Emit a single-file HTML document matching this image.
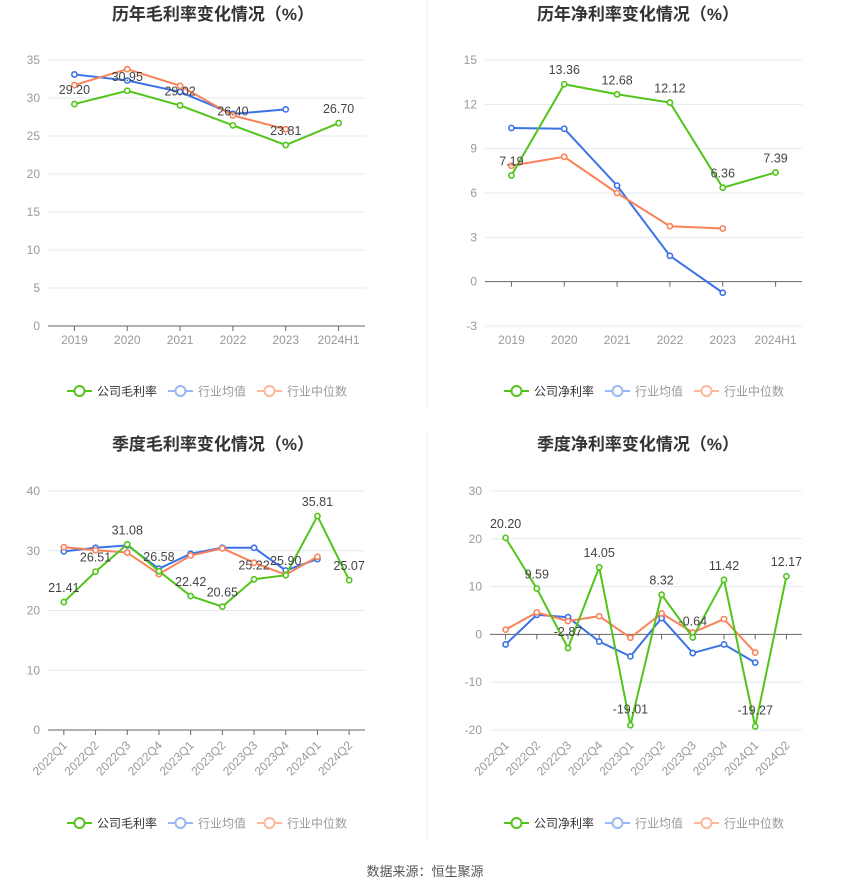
<!DOCTYPE html>
<html><head><meta charset="utf-8">
<style>
body{margin:0;background:#fff;width:850px;height:891px;overflow:hidden;font-family:"Liberation Sans","Noto Sans CJK SC",sans-serif;}
svg text{font-family:"Liberation Sans","Noto Sans CJK SC",sans-serif;}
</style></head>
<body>
<svg id="root" width="850" height="891" xmlns="http://www.w3.org/2000/svg">
<line x1="427" y1="0" x2="427" y2="408" stroke="#eee"/>
<line x1="427" y1="432" x2="427" y2="840" stroke="#eee"/>
<text x="425" y="876" text-anchor="middle" font-size="13" fill="#555">数据来源：恒生聚源</text>
</svg>
<script>
// Chart 1: annual gross margin
const c1Cats=["2019","2020","2021","2022","2023","2024H1"];
const c1Company=[29.20,30.95,29.02,26.40,23.81,26.70];
const c1Avg=[33.1,32.3,30.8,27.9,28.5];
const c1Median=[31.7,33.8,31.6,27.7,25.9];
const c1Ticks=[0,5,10,15,20,25,30,35];
// Chart 2: annual net margin
const c2Cats=["2019","2020","2021","2022","2023","2024H1"];
const c2Company=[7.19,13.36,12.68,12.12,6.36,7.39];
const c2Avg=[10.4,10.35,6.5,1.75,-0.75];
const c2Median=[7.85,8.45,6.0,3.75,3.6];
const c2Ticks=[-3,0,3,6,9,12,15];
// Chart 3: quarterly gross margin
const c3Cats=["2022Q1","2022Q2","2022Q3","2022Q4","2023Q1","2023Q2","2023Q3","2023Q4","2024Q1","2024Q2"];
const c3Company=[21.41,26.51,31.08,26.58,22.42,20.65,25.22,25.90,35.81,25.07];
const c3Avg=[29.9,30.5,30.9,27.0,29.5,30.5,30.5,26.7,28.6];
const c3Median=[30.6,30.1,29.7,26.1,29.2,30.4,28.0,26.0,29.0];
const c3Ticks=[0,10,20,30,40];
// Chart 4: quarterly net margin
const c4Cats=["2022Q1","2022Q2","2022Q3","2022Q4","2023Q1","2023Q2","2023Q3","2023Q4","2024Q1","2024Q2"];
const c4Company=[20.20,9.59,-2.87,14.05,-19.01,8.32,-0.64,11.42,-19.27,12.17];
const c4Avg=[-2.1,4.1,3.6,-1.5,-4.6,3.4,-3.9,-2.1,-5.9];
const c4Median=[1.0,4.6,2.8,3.8,-0.7,4.4,0.4,3.2,-3.8];
const c4Ticks=[-20,-10,0,10,20,30];

const NS="http://www.w3.org/2000/svg";
const root=document.getElementById('root');
function mk(tag,attrs,parent){const e=document.createElementNS(NS,tag);for(const k in attrs)e.setAttribute(k,attrs[k]);(parent||root).appendChild(e);return e;}
const GREEN="#52c41a",BLUE="#3b72e8",ORANGE="#fa8259";

function chart(o){
  const g=mk('g',{});
  
  
  const t=mk('text',{x:o.cx,y:o.titleY,'text-anchor':'middle','font-size':17,'font-weight':'bold',fill:'#333'},g);
  t.textContent=o.title;
  
  
  const n=o.cats.length, step=(o.x1-o.x0)/n;
  const lo=o.ticks[0], hi=o.ticks[o.ticks.length-1];
  const ys=v=>o.yBot-(v-lo)/(hi-lo)*(o.yBot-o.yTop);
  const xs=i=>o.x0+step*(i+0.5);
  o.ticks.forEach(tv=>{
    const y=ys(tv);
    if(tv!==0){const l=mk('line',{x1:o.x0,x2:o.x1,y1:y,y2:y,stroke:'#e3e8f3'},g);
      
      }
    const tl=mk('text',{x:o.x0-8,y:y+4,'text-anchor':'end','font-size':12,fill:'#999'},g);
    tl.textContent=tv;
    
    
  });
  const y0=ys(0);
  const ax=mk('line',{x1:o.x0,x2:o.x1,y1:y0,y2:y0,stroke:'#666'},g);
  
  
  o.cats.forEach((c,i)=>{
    const x=xs(i);
    mk('line',{x1:x,x2:x,y1:y0,y2:y0+5,stroke:'#666'},g);
    let lt;
    const ly=o.yBot+18;
    if(o.rot){lt=mk('text',{x:x+4,y:ly-2,'text-anchor':'end','font-size':12,fill:'#999',transform:`rotate(-45 ${x+4} ${ly-2})`},g);}
    else lt=mk('text',{x:x,y:ly,'text-anchor':'middle','font-size':12,fill:'#999'},g);
    lt.textContent=c;
    
    
  });
  function series(vals,col,name,labels){
    const pts=vals.map((v,i)=>xs(i)+','+ys(v)).join(' ');
    const pl=mk('polyline',{points:pts,fill:'none',stroke:col,'stroke-width':2},g);
    
    
    vals.forEach((v,i)=>{
      const c=mk('circle',{cx:xs(i),cy:ys(v),r:2.6,fill:'#fff',stroke:col,'stroke-width':1.6},g);
      
      
    });
    if(labels)vals.forEach((v,i)=>{
      const lt=mk('text',{x:xs(i),y:ys(v)-10,'text-anchor':'middle','font-size':12.5,fill:'#444'},g);
      if(v<0)lt.setAttribute('y',ys(v)-12);
      lt.textContent=v.toFixed(2);
      
      
    });
  }
  series(o.avg,BLUE,'industry-average',false);
  series(o.median,ORANGE,'industry-median',false);
  series(o.company,GREEN,'company',true);
  // legend
  const items=[[o.legend,GREEN,'#333'],['行业均值','#9ab8f5','#999'],['行业中位数','#fcb79f','#999']];
  let lx=o.legX;
  items.forEach(([txt,col,tc],k)=>{
    const lg=mk('g',{},g);
    
    
    mk('line',{x1:lx,x2:lx+25,y1:o.legY,y2:o.legY,stroke:col,'stroke-width':2},lg);
    mk('circle',{cx:lx+12.5,cy:o.legY,r:5,fill:'#fff',stroke:col,'stroke-width':2},lg);
    const tt=mk('text',{x:lx+30,y:o.legY+4.5,'font-size':12,fill:tc},lg);
    tt.textContent=txt;
    lx+=30+txt.length*12+11;
  });
}
chart({name:'annual-gross-margin-chart',title:'历年毛利率变化情况（%）',cx:213,titleY:20,x0:48,x1:365,yTop:60,yBot:326,cats:c1Cats,company:c1Company,avg:c1Avg,median:c1Median,ticks:c1Ticks,legend:'公司毛利率',legX:67,legY:391});
chart({name:'annual-net-margin-chart',title:'历年净利率变化情况（%）',cx:638,titleY:20,x0:485,x1:802,yTop:60,yBot:326,cats:c2Cats,company:c2Company,avg:c2Avg,median:c2Median,ticks:c2Ticks,legend:'公司净利率',legX:504,legY:391});
chart({name:'quarterly-gross-margin-chart',title:'季度毛利率变化情况（%）',cx:213,titleY:450,x0:48,x1:365,yTop:491,yBot:730,cats:c3Cats,company:c3Company,avg:c3Avg,median:c3Median,ticks:c3Ticks,legend:'公司毛利率',legX:67,legY:823,rot:true});
chart({name:'quarterly-net-margin-chart',title:'季度净利率变化情况（%）',cx:638,titleY:450,x0:490,x1:802,yTop:491,yBot:730,cats:c4Cats,company:c4Company,avg:c4Avg,median:c4Median,ticks:c4Ticks,legend:'公司净利率',legX:504,legY:823,rot:true});
</script>
</body></html>
